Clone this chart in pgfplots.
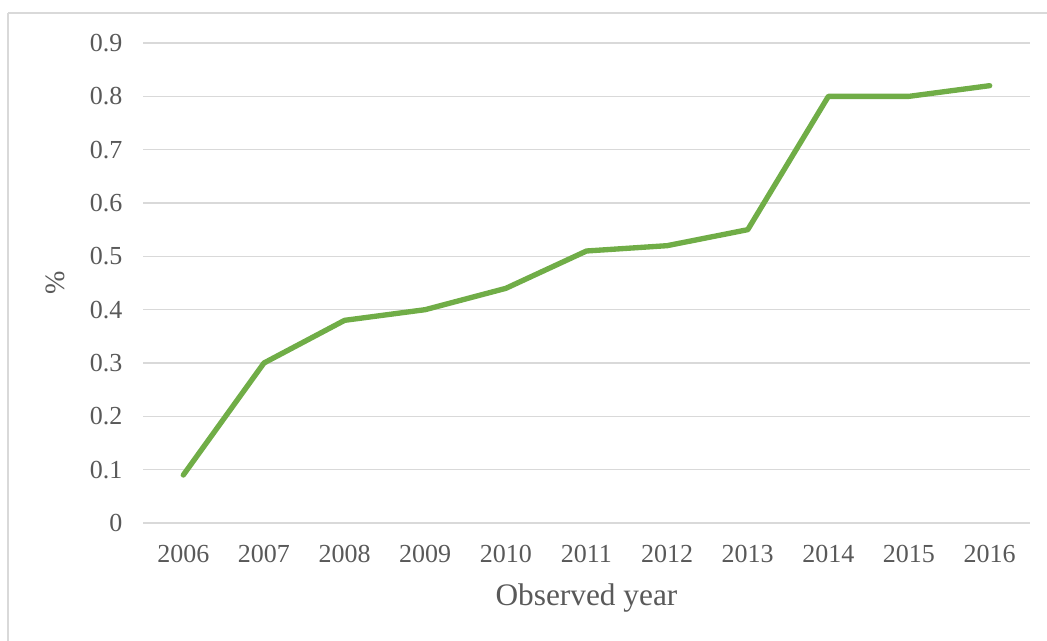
\documentclass[border=0pt]{standalone}
\usepackage{fontspec}
\setmainfont{Liberation Serif}
\usepackage{pgfplots}
\pgfplotsset{compat=1.18}
\definecolor{linegreen}{HTML}{70AD47}
\definecolor{gridgray}{HTML}{D9D9D9}
\definecolor{txtgray}{HTML}{595959}
\begin{document}
\begin{tikzpicture}[x=0.75pt,y=0.75pt]
\useasboundingbox (0,0) rectangle (1047,640);
\draw[gridgray,line width=1.5pt] (8,627) -- (1060,627);
\draw[gridgray,line width=1.5pt] (8,627) -- (8,-10);
\begin{axis}[
  at={(107.25pt,87.75pt)}, anchor=origin,
  scale only axis,
  width=665.25pt, height=360pt,
  xmin=2005.5, xmax=2016.5,
  ymin=0, ymax=0.9,
  xtick={2006,...,2016},
  ytick={0,0.1,...,0.9},
  yticklabels={0,0.1,0.2,0.3,0.4,0.5,0.6,0.7,0.8,0.9},
  xticklabel style={/pgf/number format/1000 sep=},
  /pgf/number format/assume math mode=true,
  axis line style={draw=none},
  axis x line*=bottom,
  x axis line style={draw=gridgray,line width=1.2pt},
  major tick length=0pt,
  ymajorgrids,
  grid style={gridgray,line width=1.2pt},
  tick label style={font=\fontsize{19.5}{23}\selectfont,text=txtgray},
  yticklabel style={xshift=-12pt},
  xticklabel style={yshift=-13pt},
  xlabel={Observed year},
  ylabel={\%},
  label style={font=\fontsize{23.5}{28}\selectfont,text=txtgray},
  xlabel style={at={(axis description cs:0.5,-0.156)},anchor=center},
  ylabel style={at={(axis description cs:-0.0992,0.5)},anchor=center,rotate=0,font=\fontsize{21}{25}\selectfont},
  clip=false,
]
\addplot[linegreen,line width=4pt,line cap=round,line join=round] coordinates {
(2006,0.09) (2007,0.30) (2008,0.38) (2009,0.40) (2010,0.44) (2011,0.51)
(2012,0.52) (2013,0.55) (2014,0.80) (2015,0.80) (2016,0.82)};
\end{axis}
\end{tikzpicture}
\end{document}
